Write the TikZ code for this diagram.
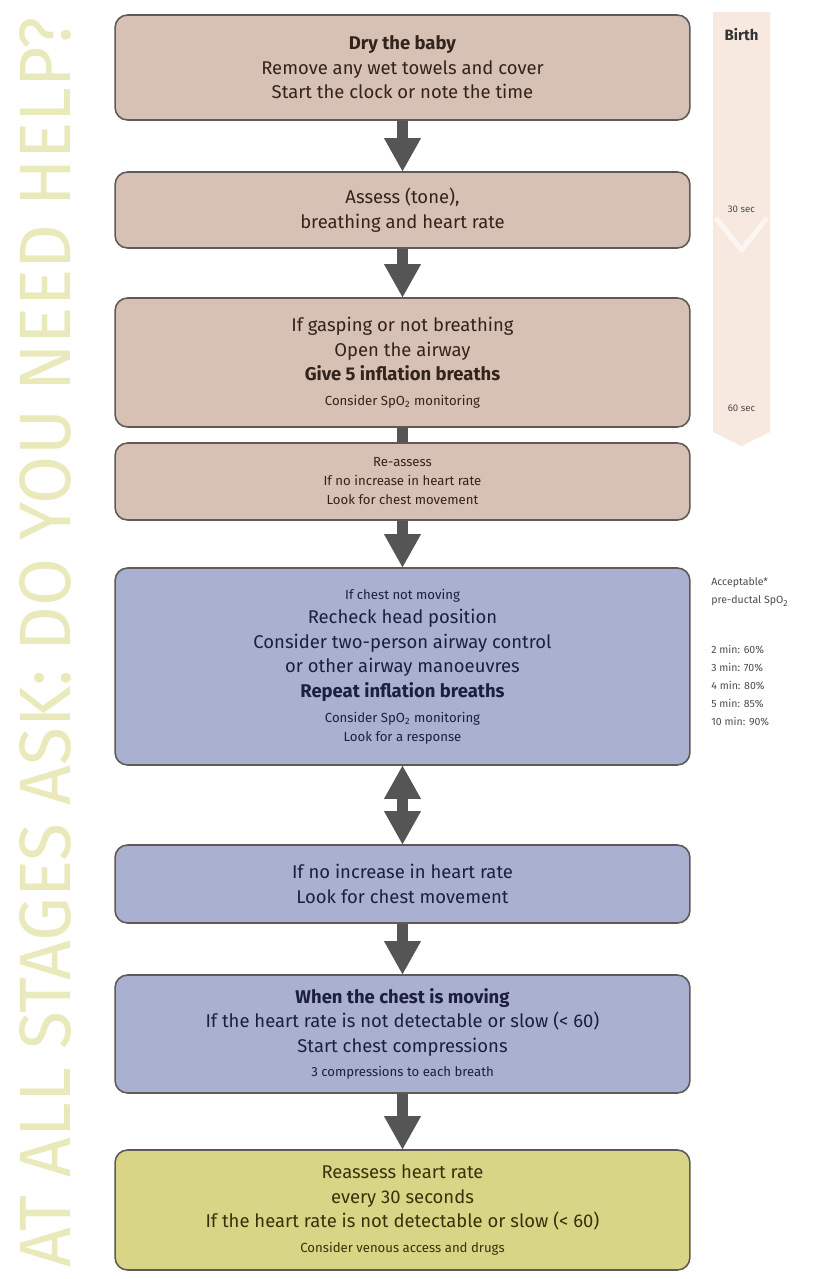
\documentclass[tikz,border=0pt]{standalone}
\usepackage{fontspec}
\setmainfont{Fira Sans}
\usepackage{graphicx}
\usetikzlibrary{arrows.meta}
\definecolor{tanbox}{RGB}{214,193,180}
\definecolor{bluebox}{RGB}{169,176,208}
\definecolor{yelbox}{RGB}{216,214,134}
\definecolor{edgegray}{RGB}{95,90,88}
\definecolor{arrowgray}{RGB}{85,85,85}
\definecolor{peach}{RGB}{247,233,223}
\definecolor{helpcol}{RGB}{233,233,188}
\definecolor{tantext}{RGB}{50,35,28}
\definecolor{bluetext}{RGB}{28,32,60}
\definecolor{yeltext}{RGB}{55,50,10}
\newcommand{\fsm}{\fontsize{7.5}{10}\selectfont}
\newcommand{\fmd}{\fontsize{10.5}{14}\selectfont}
\newcommand{\ftl}{\fontsize{5.5}{7}\selectfont}

\begin{document}
\begin{tikzpicture}[x=0.02cm, y=0.02cm, line join=round, >={Triangle[width=0.74cm,length=0.66cm,line width=0pt]}, font=\fmd]
	\tikzset{stepbox/.style={draw=edgegray, line width=0.9pt, rounded corners=0.25cm, minimum width=11.5cm, align=center, inner sep=0pt},
		tanstep/.style={stepbox, fill=tanbox, text=tantext},
		bluestep/.style={stepbox, fill=bluebox, text=bluetext},
		yelstep/.style={stepbox, fill=yelbox, text=yeltext},
		flow/.style={->, draw=arrowgray, line width=0.23cm},
		spo/.style={font=\fontsize{6}{7}\selectfont, text=black!70, inner sep=0pt, anchor=west}}
	\def\cx{402.5}
	\useasboundingbox (0,0) rectangle (815,-1279);
	% side note
	\node[rotate=90, text=helpcol, inner sep=0pt] (help) at (45,-643) {\resizebox{25cm}{1.02cm}{AT ALL STAGES ASK: DO YOU NEED HELP?}};
	% time bar
	\fill[peach] (713,-12) -- (770,-12) -- (770,-432) -- (741.5,-446) -- (713,-432) -- cycle;
	\draw[white, line width=0.1cm, opacity=0.6] (716,-218) -- (741.5,-250) -- (767,-218);
	\node[font=\bfseries\fontsize{8.5}{10}\selectfont, text=black!80] (birth) at (741.5,-35) {Birth};
	\node[font=\ftl, text=black!70] (sec30) at (741.5,-209) {30 sec};
	\node[font=\ftl, text=black!70] (sec60) at (741.5,-408) {60 sec};
	% steps
	\node[tanstep, minimum height=2.1cm] (dry) at (\cx,-67.5) {\textbf{Dry the baby}\\Remove any wet towels and cover\\Start the clock or note the time};
	\node[tanstep, minimum height=1.52cm] (assess) at (\cx,-210) {Assess (tone),\\breathing and heart rate};
	\node[tanstep, minimum height=2.58cm] (gasp) at (\cx,-362.5) {If gasping or not breathing\\Open the airway\\\textbf{Give 5 inflation breaths}\\{\fsm Consider SpO\textsubscript{2} monitoring}};
	\node[tanstep, minimum height=1.54cm, font=\fontsize{7.5}{10.8}\selectfont] (reassess) at (\cx,-481.5) {Re-assess\\If no increase in heart rate\\Look for chest movement};
	\node[bluestep, minimum height=3.94cm] (recheck) at (\cx,-666.5) {{\fsm If chest not moving}\\Recheck head position\\Consider two-person airway control\\or other airway manoeuvres\\\textbf{Repeat inflation breaths}\\{\fsm Consider SpO\textsubscript{2} monitoring}\\[-3pt]{\fsm Look for a response}};
	\node[bluestep, minimum height=1.56cm] (noinc) at (\cx,-884) {If no increase in heart rate\\Look for chest movement};
	\node[bluestep, minimum height=2.36cm] (compress) at (\cx,-1034) {\textbf{When the chest is moving}\\If the heart rate is not detectable or slow (< 60)\\Start chest compressions\\{\fsm 3 compressions to each breath}};
	\node[yelstep, minimum height=2.4cm] (hrate) at (\cx,-1210) {Reassess heart rate\\every 30 seconds\\If the heart rate is not detectable or slow (< 60)\\{\fsm Consider venous access and drugs}};
	% saturation targets
	\node[spo] (acc) at (711,-583) {Acceptable*};
	\node[spo] (pre) at (711,-601) {pre-ductal SpO\textsubscript{2}};
	\foreach \t/\y in {2 min: 60\%/650, 3 min: 70\%/668, 4 min: 80\%/686, 5 min: 85\%/704, 10 min: 90\%/722}
		\node[spo] (sat\y) at (711,-\y) {\t};
	% connectors
	\draw[flow] (dry) -- (assess);
	\draw[flow] (assess) -- (gasp);
	\draw[draw=arrowgray, line width=0.23cm] (gasp) -- (reassess);
	\draw[flow] (reassess) -- (recheck);
	\draw[flow, <->] (recheck) -- (noinc);
	\draw[flow] (noinc) -- (compress);
	\draw[flow] (compress) -- (hrate);
\end{tikzpicture}
\end{document}
